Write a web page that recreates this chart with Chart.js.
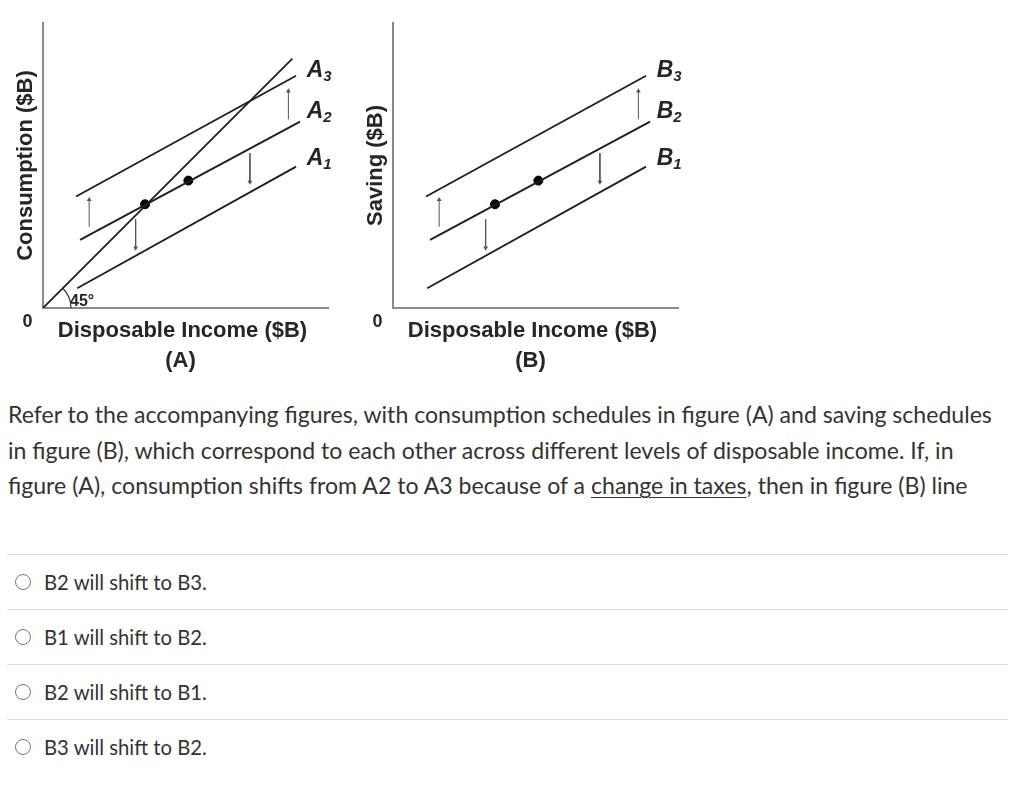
<!DOCTYPE html>
<html>
<head>
<meta charset="utf-8">
<script src="https://cdn.jsdelivr.net/npm/chart.js@4.4.1/dist/chart.umd.min.js"></script>
<style>
  html, body { margin: 0; padding: 0; background: #fff; }
  body { width: 1024px; height: 792px; position: relative; overflow: hidden; }
  .fig { position: absolute; top: 0; width: 345px; height: 375px; }
  #figA { left: 0; }
  #figB { left: 350px; }
  .question {
    position: absolute; left: 8px; top: 397px;
    font-family: Lato, sans-serif; font-size: 23.1px; line-height: 35.5px; color: #333;
    white-space: nowrap;
  }
  .question u { text-underline-offset: 3px; text-decoration-thickness: 1px; }
  .answers { position: absolute; left: 7px; top: 554px; width: 1001px; }
  .answer {
    height: 54px; border-top: 1px solid #dddddd;
    display: flex; align-items: center;
    font-family: Lato, sans-serif; font-size: 20.3px; color: #333;
  }
  .radio {
    width: 16px; height: 16px; border: 1.5px solid #777; border-radius: 50%;
    margin-left: 8px; margin-right: 13px; box-sizing: border-box; flex: none;
  }
</style>
</head>
<body>
<div class="fig" id="figA"><canvas id="chartA"></canvas></div>
<div class="fig" id="figB"><canvas id="chartB"></canvas></div>

<div class="question">Refer to the accompanying figures, with consumption schedules in figure (A) and saving schedules<br>in figure (B), which correspond to each other across different levels of disposable income. If, in<br>figure (A), consumption shifts from A2 to A3 because of a <u>change in taxes</u>, then in figure (B) line</div>

<div class="answers">
  <div class="answer"><span class="radio"></span>B2 will shift to B3.</div>
  <div class="answer"><span class="radio"></span>B1 will shift to B2.</div>
  <div class="answer"><span class="radio"></span>B2 will shift to B1.</div>
  <div class="answer"><span class="radio"></span>B3 will shift to B2.</div>
</div>

<script>
// schedule lines (same shape in both figures), axis units 0-100
const line1 = [{x: 12.0, y: 6.9}, {x: 88.8, y: 49.6}];
const line2 = [{x: 13.0, y: 23.9}, {x: 90.2, y: 65.4}];
const line3 = [{x: 11.6, y: 39.1}, {x: 88.8, y: 81.5}];
const line45 = [{x: 0, y: 0}, {x: 87.5, y: 87.5}];
const dots = [{x: 35.8, y: 36.4}, {x: 51.0, y: 44.7}];

// arrows: [x, fromY, toY]
const upArrows = [[16.2, 28.5, 38.0], [86.1, 66.2, 76.1]];
const downArrows = [[32.5, 31.1, 21.1], [72.6, 54.3, 44.2]];

// line-end labels: [x, y, subscript]
const labelX = 92.5;
const labelY = [50.2, 66.7, 81.2];
const labelSubs = ['1', '2', '3'];

const axisMax = 100;
const lineColor = '#1e1e1e';
const axisColor = '#8a8a8a';
const textColor = '#262626';

function arrowSet(a, up) {
    return {
        data: [{x: a[0], y: a[1]}, {x: a[0], y: a[2]}],
        showLine: true,
        borderColor: '#555',
        borderWidth: 1,
        pointRadius: ctx => ctx.dataIndex === 1 ? 2.8 : 0,
        pointStyle: 'triangle',
        rotation: up ? 0 : 180,
        pointBackgroundColor: '#555',
        pointBorderColor: '#555',
        pointBorderWidth: 0
    };
}

function scheduleSet(pts) {
    return {
        data: pts,
        showLine: true,
        borderColor: lineColor,
        borderWidth: 1.8,
        pointRadius: 0
    };
}

function labelsPlugin(letter, yTitle, figTag, with45) {
    return {
        id: 'figLabels',
        afterDraw(chart) {
            const c = chart.ctx;
            const a = chart.chartArea;
            const sx = chart.scales.x, sy = chart.scales.y;
            c.save();
            c.fillStyle = textColor;

            // line-end labels like A1, A2, A3
            labelY.forEach((v, i) => {
                const px = sx.getPixelForValue(labelX);
                const py = sy.getPixelForValue(v);
                c.textAlign = 'left';
                c.textBaseline = 'alphabetic';
                c.font = 'italic bold 23px "Liberation Sans", Arial, sans-serif';
                c.fillText(letter, px, py);
                const w = c.measureText(letter).width;
                c.font = 'italic bold 15px "Liberation Sans", Arial, sans-serif';
                c.fillText(labelSubs[i], px + w, py + 4);
            });

            // axis titles
            c.font = 'bold 22px "Liberation Sans", Arial, sans-serif';
            c.textAlign = 'center';
            c.textBaseline = 'middle';
            c.fillText('Disposable Income ($B)', (a.left + a.right) / 2 - 3, a.bottom + 23);
            c.fillText(figTag, (a.left + a.right) / 2 - 5, a.bottom + 53);
            c.font = 'bold 18px "Liberation Sans", Arial, sans-serif';
            c.fillText('0', a.left - 15.5, a.bottom + 14);

            c.save();
            c.translate(a.left - 17, (a.top + a.bottom) / 2);
            c.rotate(-Math.PI / 2);
            c.font = 'bold 22px "Liberation Sans", Arial, sans-serif';
            c.fillText(yTitle, 0, 0);
            c.restore();

            if (with45) {
                const ox = sx.getPixelForValue(0), oy = sy.getPixelForValue(0);
                c.strokeStyle = '#333';
                c.lineWidth = 1.2;
                c.beginPath();
                c.arc(ox, oy, 28, -Math.PI / 4, 0);
                c.stroke();
                c.font = 'bold 16px "Liberation Sans", Arial, sans-serif';
                c.textAlign = 'left';
                c.textBaseline = 'alphabetic';
                c.fillText('45°', ox + 27, oy - 2);
            }
            c.restore();
        }
    };
}

function makeFigure(id, letter, yTitle, figTag, with45) {
    const datasets = [scheduleSet(line1), scheduleSet(line2), scheduleSet(line3)];
    if (with45) datasets.push(scheduleSet(line45));
    datasets.push({
        data: dots,
        pointRadius: 4.5,
        pointBackgroundColor: '#000',
        pointBorderColor: '#000'
    });
    upArrows.forEach(a => datasets.push(arrowSet(a, true)));
    downArrows.forEach(a => datasets.push(arrowSet(a, false)));

    const axis = {
        type: 'linear',
        min: 0,
        max: axisMax,
        ticks: { display: false },
        grid: { display: false, drawTicks: false },
        border: { display: true, color: axisColor, width: 2 }
    };

    new Chart(document.getElementById(id), {
        type: 'scatter',
        data: { datasets: datasets },
        options: {
            responsive: true,
            maintainAspectRatio: false,
            animation: false,
            layout: { padding: { left: 43, top: 23, right: 17, bottom: 67 } },
            plugins: { legend: { display: false }, tooltip: { enabled: false } },
            scales: { x: axis, y: axis }
        },
        plugins: [labelsPlugin(letter, yTitle, figTag, with45)]
    });
}

makeFigure('chartA', 'A', 'Consumption ($B)', '(A)', true);
makeFigure('chartB', 'B', 'Saving ($B)', '(B)', false);
</script>
</body>
</html>
